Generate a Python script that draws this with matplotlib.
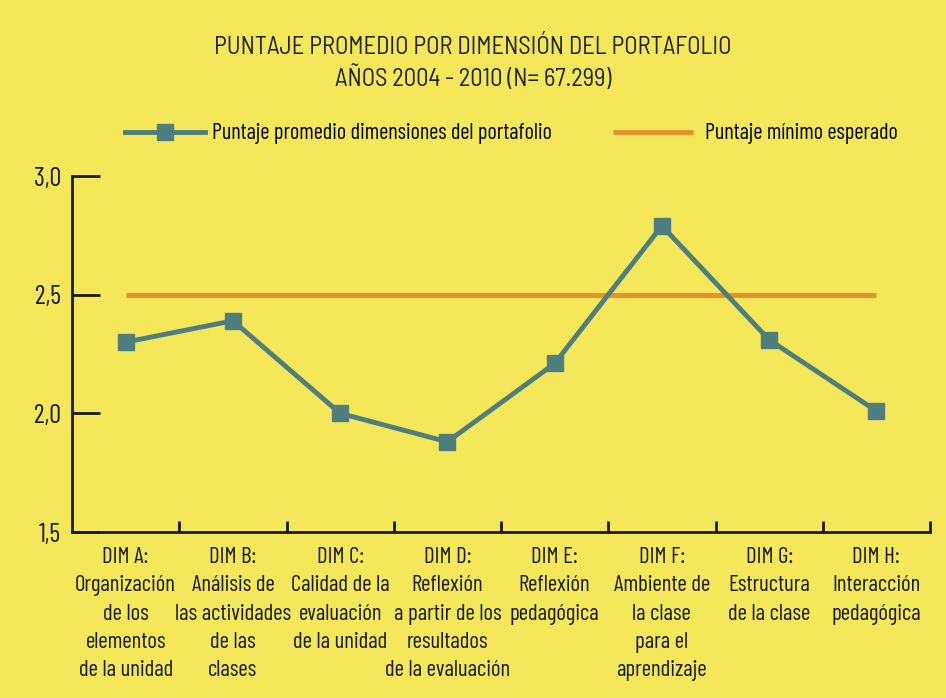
import matplotlib as mpl
mpl.use('Agg')
import matplotlib.pyplot as plt
import numpy as np

plt.rcParams['font.family'] = ['Barlow Condensed', 'DejaVu Sans']

categorias = ['DIM A:\nOrganización\nde los\nelementos\nde la unidad',
              'DIM B:\nAnálisis de\nlas actividades\nde las\nclases',
              'DIM C:\nCalidad de la\nevaluación\nde la unidad',
              'DIM D:\nReflexión\na partir de los\nresultados\nde la evaluación',
              'DIM E:\nReflexión\npedagógica',
              'DIM F:\nAmbiente de\nla clase\npara el\naprendizaje',
              'DIM G:\nEstructura\nde la clase',
              'DIM H:\nInteracción\npedagógica']
puntaje = [2.30, 2.39, 2.00, 1.88, 2.21, 2.79, 2.31, 2.01]
minimo = [2.5] * 8
yticks = [1.5, 2.0, 2.5, 3.0]
ytick_labels = ['1,5', '2,0', '2,5', '3,0']

fondo = '#F4E85A'
verde = '#4E7F7E'
naranja = '#E8902C'
tinta = '#1a1a1a'

fig = plt.figure(figsize=(9.46, 6.98), dpi=100)
fig.patch.set_facecolor(fondo)
W, H = 946, 698
ax = fig.add_axes([72 / W, 1 - 532 / H, (930 - 72) / W, (532 - 176) / H])
ax.set_facecolor('none')

x = np.arange(len(categorias))
l2, = ax.plot(x, minimo, color=naranja, lw=3.5, solid_capstyle='butt',
              label='Puntaje mínimo esperado')
l1, = ax.plot(x, puntaje, color=verde, lw=3.5, marker='s', markersize=12,
              label='Puntaje promedio dimensiones del portafolio')

ax.set_xlim(-0.5, 7.5)
ax.set_ylim(1.5, 3.0)
for s in ['top', 'right']:
    ax.spines[s].set_visible(False)
for s in ['left', 'bottom']:
    ax.spines[s].set_linewidth(2)
    ax.spines[s].set_color(tinta)

ax.set_yticks(yticks)
ax.set_yticklabels(ytick_labels, fontsize=19)
ax.tick_params(axis='y', direction='in', length=20, width=2, pad=8,
               colors=tinta)

ax.set_xticks(x)
ax.set_xticklabels(categorias, fontsize=16.5, linespacing=1.45, va='top')
ax.tick_params(axis='x', which='major', length=0, pad=11, colors=tinta)
ax.set_xticks(np.arange(0.5, 8, 1), minor=True)
ax.tick_params(axis='x', which='minor', direction='in', length=8, width=2,
               colors=tinta)

titulo = dict(ha='center', va='center', fontsize=17.7, color='#222222',
              family=['Barlow Semi Condensed', 'DejaVu Sans'])
fig.text(0.5, 1 - 47 / H, 'PUNTAJE PROMEDIO POR DIMENSIÓN DEL PORTAFOLIO', **titulo)
fig.text(0.5, 1 - 78 / H, 'AÑOS 2004 - 2010 (N= 67.299)', **titulo)

fig.legend(handles=[l1], loc='center left',
           bbox_to_anchor=(125 / W, 1 - 134 / H), frameon=False,
           fontsize=16, handlelength=3.6, handletextpad=0.3,
           borderpad=0, borderaxespad=0, numpoints=1)
fig.legend(handles=[l2], loc='center left',
           bbox_to_anchor=(613 / W, 1 - 134 / H), frameon=False,
           fontsize=16, handlelength=3.6, handletextpad=0.55,
           borderpad=0, borderaxespad=0)

fig.savefig('out.png', dpi=100, facecolor=fondo)
